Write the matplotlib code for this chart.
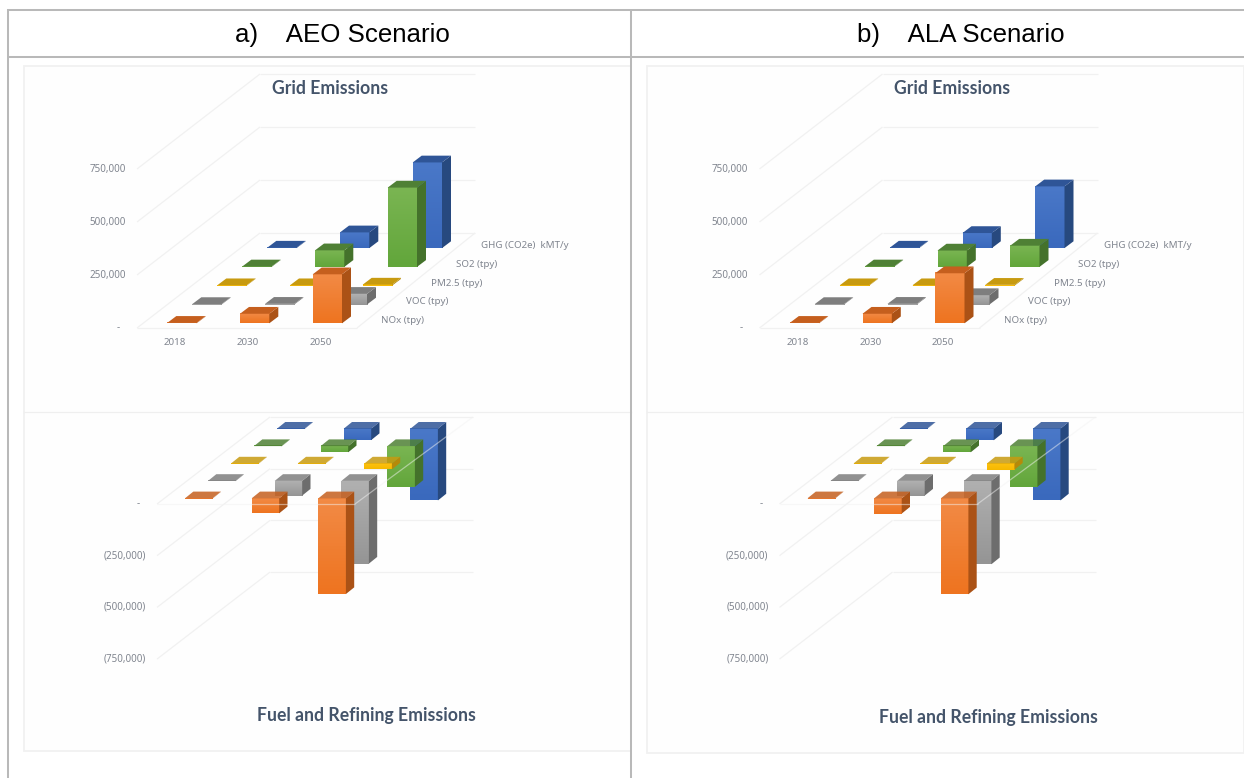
import numpy as np
import matplotlib
matplotlib.use('Agg')
import matplotlib.pyplot as plt
from matplotlib.colors import LinearSegmentedColormap
from matplotlib.patches import Polygon, Rectangle

width = 12.44
height = 7.78

years = ['2018', '2030', '2050']
series = ['NOx (tpy)', 'VOC (tpy)', 'PM2.5 (tpy)', 'SO2 (tpy)', 'GHG (CO2e)  kMT/y']
grid_ticks = [250000, 500000, 750000]
grid_tick_labels = ['250,000', '500,000', '750,000']
fuel_tick_labels = ['(250,000)', '(500,000)', '(750,000)']

# rows follow the series order, columns the years
aeo_grid = [[2000, 45000, 231000],
            [2000, 3000, 50000],
            [2000, 2000, 5000],
            [2000, 78000, 374000],
            [2000, 74000, 404000]]
ala_grid = [[2000, 45000, 236000],
            [2000, 3000, 44000],
            [2000, 2000, 4000],
            [2000, 77000, 100000],
            [2000, 71000, 291000]]
aeo_fuel = [[-1500, -72500, -463000],
            [-1500, -71000, -400000],
            [-1500, -2000, -29000],
            [-1500, -30000, -197000],
            [-1500, -55000, -347000]]
ala_fuel = [[-1500, -74000, -464000],
            [-1500, -71000, -403000],
            [-1500, -2000, -30000],
            [-1500, -30000, -197000],
            [-1500, -56000, -347000]]

# front top, front bottom, top face, side face
colors = [('#f28a45', '#ee7420', '#c55f1e', '#ab5216'),
          ('#b0b0b0', '#959595', '#7e7e7e', '#6d6d6d'),
          ('#ffc20f', '#f5b800', '#c79a10', '#b58a0a'),
          ('#7ab552', '#62a63b', '#4f8035', '#44722b'),
          ('#4a78c8', '#3a69bd', '#2f5597', '#27497f')]
title_color = '#44546a'
label_color = '#80858f'
rule_color = '#f1f1f1'
table_color = '#b9b9b9'

plt.rcParams['font.family'] = ['Noto Sans', 'DejaVu Sans']

fig = plt.figure(figsize=(width, height), dpi=100)
ax = fig.add_axes([0, 0, 1, 1])
ax.axis('off')


def gradient_face(pts, top, bottom, z):
    cmap = LinearSegmentedColormap.from_list('face', [top, bottom])
    xs = [p[0] for p in pts]
    ys = [p[1] for p in pts]
    ax.imshow(np.linspace(0, 1, 32).reshape(-1, 1), cmap=cmap, aspect='auto',
              extent=(min(xs), max(xs), max(ys), min(ys)), zorder=z)


def draw_chart(values, dx, geo, tick_labels, tick_x, title, title_y):
    # oblique projection: year and series move across the floor, value moves vertically
    x0, y0, year_step, ser_dx, ser_dy, bar_w, depth_x, depth_y, scale = geo['bars']
    fl, fr, bl, br = [np.array(p) + np.array([dx, 0]) for p in geo['floor']]

    def rule(a, b, z=1, color=rule_color, alpha=1.0):
        ax.plot([a[0], b[0]], [a[1], b[1]], color=color, lw=0.9, alpha=alpha, zorder=z,
                solid_capstyle='butt')

    sign = geo['sign']
    for t in grid_ticks:
        lift = np.array([0, -sign * t * scale])
        rule(fl + lift, bl + lift)
        rule(bl + lift, [br[0], bl[1] + lift[1]])

    for t, lab in zip(grid_ticks, tick_labels):
        ax.text(tick_x + dx, fl[1] - sign * t * scale, lab, ha='right', va='center',
                fontsize=7.1, color=label_color, zorder=2)
    ax.text(geo['dash_x'] + dx, fl[1], '-', ha='right', va='center', fontsize=7.1,
            color=label_color, zorder=2)

    z = 10
    # back row first so nearer bars cover it
    for j in range(len(series) - 1, -1, -1):
        for i in range(len(years)):
            v = values[j][i]
            x = x0 + dx + i * year_step + j * ser_dx
            base = y0 + j * ser_dy
            hi = base - max(v, 0) * scale
            lo = base - min(v, 0) * scale
            top, bottom, roof, side = colors[j]
            front = [(x, hi), (x + bar_w, hi), (x + bar_w, lo), (x, lo)]
            gradient_face(front, top, bottom, z)
            ax.add_patch(Polygon([(x + bar_w, hi), (x + bar_w + depth_x, hi + depth_y),
                                  (x + bar_w + depth_x, lo + depth_y), (x + bar_w, lo)],
                                 closed=True, fc=side, ec='none', zorder=z + 0.1))
            ax.add_patch(Polygon([(x, hi), (x + bar_w, hi), (x + bar_w + depth_x, hi + depth_y),
                                  (x + depth_x, hi + depth_y)],
                                 closed=True, fc=roof, ec='none', alpha=geo['roof_alpha'],
                                 zorder=z + 0.2))
            z += 1

    if geo['floor_over']:
        # the floor of the negative chart runs in front of the bars
        for a, b in ((fl, fr), (fr, br)):
            rule(a, b, z=z, color='#f2f2f2', alpha=0.5)
        rule(bl, br)
        rule(fl, bl)
    else:
        for a, b in ((fl, fr), (fr, br), (bl, br), (fl, bl)):
            rule(a, b)

    if 'year_x' in geo:
        for i, year in enumerate(years):
            ax.text(geo['year_x'] + dx + i * year_step, geo['year_y'], year, ha='center',
                    va='center', fontsize=7, color=label_color)
        for j, name in enumerate(series):
            ax.text(geo['ser_x'] + dx + j * ser_dx, geo['ser_y'] + j * ser_dy, name, ha='left',
                    va='center', fontsize=7, color=label_color)

    ax.text(title[1] + dx, title_y, title[0], ha='center', va='center', fontsize=12.7,
            fontweight='bold', family=['Lato'], color=title_color)


grid_geo = dict(bars=(167.3, 323.3, 72.7, 25.0, -18.8, 29.3, 9.0, -6.8, 53.0 / 250000),
                floor=((137, 328), (357, 328), (260, 233), (475, 233)), sign=1, roof_alpha=1.0,
                dash_x=120, floor_over=False, year_x=175, year_y=342.7, ser_x=381, ser_y=320.7)
fuel_geo = dict(bars=(185.0, 498.3, 66.7, 23.0, -17.4, 27.5, 8.3, -6.7, 51.7 / 250000),
                floor=((157, 504), (355, 504), (270, 417), (473, 417)), sign=-1, roof_alpha=0.85,
                dash_x=140, floor_over=True)

# chart panels sit inside the table cells
for x, y, w, h in ((24, 66, 607, 685), (647, 66, 597, 687)):
    ax.add_patch(Rectangle((x, y), w, h, fc='#fefefe', ec='#f1f1f1', lw=1.3, zorder=0))
ax.plot([24, 631], [411.5, 411.5], color='#efefef', lw=0.9, zorder=1)
ax.plot([647, 1244], [411.5, 411.5], color='#efefef', lw=0.9, zorder=1)

draw_chart(aeo_grid, 0, grid_geo, grid_tick_labels, 125.5, ('Grid Emissions', 330), 88)
draw_chart(ala_grid, 622.5, grid_geo, grid_tick_labels, 125.5, ('Grid Emissions', 330), 88)
draw_chart(aeo_fuel, 0, fuel_geo, fuel_tick_labels, 146, ('Fuel and Refining Emissions', 366), 716)
draw_chart(ala_fuel, 622.5, fuel_geo, fuel_tick_labels, 146, ('Fuel and Refining Emissions', 366), 717)

# table rules and header cells
for x in (8, 630.7):
    ax.plot([x, x], [9, 778], color=table_color, lw=1.45, zorder=500, solid_capstyle='butt')
for y in (10, 57):
    ax.plot([7, 1244], [y, y], color=table_color, lw=1.45, zorder=500, solid_capstyle='butt')
ax.text(342.5, 35, 'a)    AEO Scenario', ha='center', va='center', fontsize=18.6,
        family=['Liberation Sans'], color='black', zorder=501)
ax.text(961, 35, 'b)    ALA Scenario', ha='center', va='center', fontsize=18.6,
        family=['Liberation Sans'], color='black', zorder=501)

ax.set_xlim(0, 1244)
ax.set_ylim(778, 0)
fig.savefig('out.png', dpi=100)
